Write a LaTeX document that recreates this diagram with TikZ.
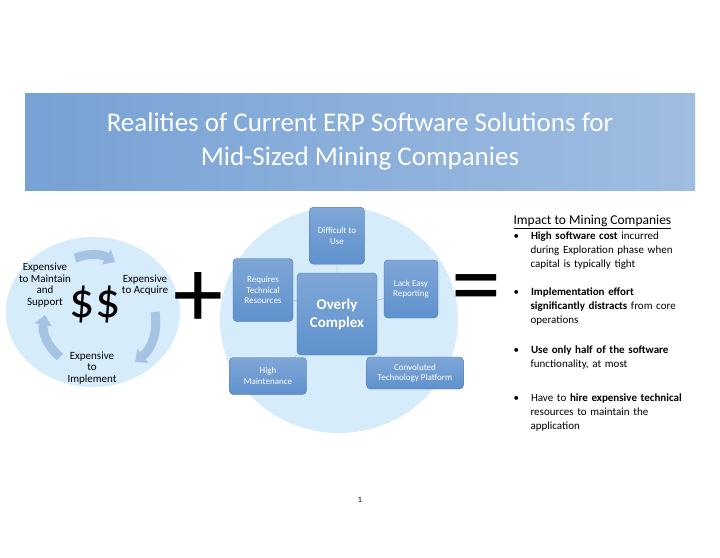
\documentclass[tikz,border=0pt]{standalone}
\usepackage{fontspec}
\setmainfont{Carlito}
\usetikzlibrary{arrows.meta}
\definecolor{lightbg}{RGB}{214,236,250}
\definecolor{boxblue}{RGB}{95,145,205}
\definecolor{boxdark}{RGB}{70,115,175}
\begin{document}
\begin{tikzpicture}[x=1pt,y=-1pt,
    box/.style={draw=boxdark, rounded corners=4pt, top color=boxblue!80, bottom color=boxblue,
      text=white, align=center, font=\fontsize{9}{10.5}\selectfont, inner sep=1pt},
    cyc/.style={-{Triangle[length=10pt,width=17pt]}, line width=9pt, draw=boxblue!55},
    cost/.style={align=center, font=\fontsize{11}{11.5}\selectfont},
    bullet/.style={anchor=north west, align=left, text width=180pt, font=\fontsize{11}{14}\selectfont}
  ]
  \useasboundingbox (0,0) rectangle (720,557);
  \fill[white] (0,0) rectangle (720,557);
  % Title banner
  \shade[left color=boxblue!85, right color=boxblue!60] (25,93) rectangle (695,190);
  \node[text=white, align=center, font=\fontsize{27}{34}\selectfont] (title) at (360,141)
    {Realities of Current ERP Software Solutions for\\Mid-Sized Mining Companies};

  % Cost cycle
  \fill[lightbg] (93,312) ellipse (87 and 75);
  \draw[cyc] (75,258) to[bend left=25] (115,262);
  \draw[cyc] (155,312) to[bend left=30] (135,362);
  \draw[cyc] (60,357) to[bend left=30] (45,315);
  \node[cost] (maint) at (45,285) {Expensive\\to Maintain\\and\\Support};
  \node[cost] (acq) at (145,285) {Expensive\\to Acquire};
  \node[cost] (impl) at (92,368) {Expensive\\to\\Implement};
  \node[font=\fontsize{50}{50}\selectfont] (dollars) at (95,304) {\$\$};
  \node[font=\fontsize{100}{100}\selectfont] (plus) at (198,300) {+};

  % Complexity
  \fill[lightbg] (339,320) ellipse (119 and 113);
  \node[box, minimum width=80pt, minimum height=82pt, font=\fontsize{15}{18}\selectfont\bfseries] (core) at (337,314) {Overly\\Complex};
  \node[box, minimum width=55pt, minimum height=57pt, anchor=north] (use) at (337,207) {Difficult to\\Use};
  \node[box, minimum width=60pt, minimum height=63pt] (tech) at (263,290) {Requires\\Technical\\Resources};
  \node[box, minimum width=54pt, minimum height=58pt] (report) at (411,289) {Lack Easy\\Reporting};
  \node[box, minimum width=77pt, minimum height=37pt] (maintn) at (268,376) {High\\Maintenance};
  \node[box, minimum width=97pt, minimum height=32pt] (conv) at (415,373) {Convoluted\\Technology Platform};
  \draw[boxdark!60] (core) -- (use) (core) -- (tech) (core) -- (report)
    (core.south west) -- (maintn) (core.south east) -- (conv);
  \node[font=\fontsize{100}{100}\selectfont] (equals) at (476,296) {=};

  % Impact list
  \node[anchor=west, font=\fontsize{13.5}{15}\selectfont] (impact) at (510,222) {\underline{Impact to Mining Companies}};
  \node[bullet] (b1) at (510,228) {\textbullet\hspace{12pt}\textbf{High software cost} incurred\\\hspace*{17pt}during Exploration phase when\\\hspace*{17pt}capital is typically tight};
  \node[bullet] (b2) at (510,284) {\textbullet\hspace{12pt}\textbf{Implementation effort}\\\hspace*{17pt}\textbf{significantly distracts} from core\\\hspace*{17pt}operations};
  \node[bullet] (b3) at (510,342) {\textbullet\hspace{12pt}\textbf{Use only half of the software}\\\hspace*{17pt}functionality, at most};
  \node[bullet] (b4) at (510,390) {\textbullet\hspace{12pt}Have to \textbf{hire expensive technical}\\\hspace*{17pt}resources to maintain the\\\hspace*{17pt}application};
  \node[font=\fontsize{8}{9}\selectfont] (page) at (360,500) {1};
\end{tikzpicture}
\end{document}
